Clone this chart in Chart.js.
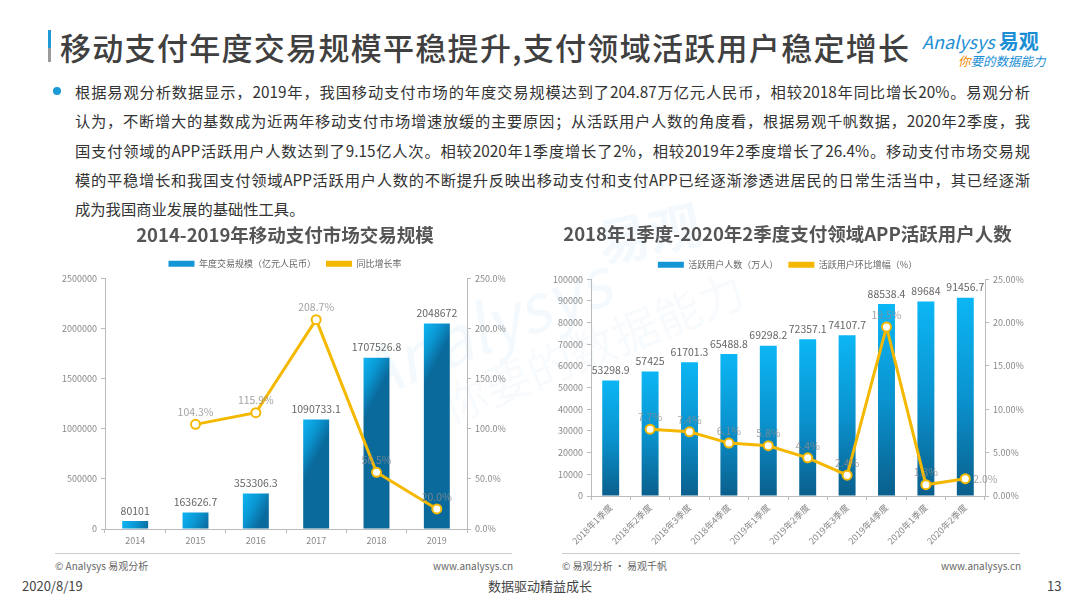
<!DOCTYPE html>
<html><head><meta charset="utf-8">
<script src="https://cdn.jsdelivr.net/npm/chart.js@4"></script>
<style>
html,body{margin:0;padding:0;background:#fff;}
body{width:1080px;height:608px;position:relative;overflow:hidden;font-family:"Noto Sans CJK SC","Noto Sans",sans-serif;}
.abs{position:absolute;}
#titlebar{left:48px;top:30px;width:3px;height:32px;background:linear-gradient(#1e9ad6 0%,#1e9ad6 55%,#9a9a9a 55%,#9a9a9a 100%);}
#title{left:60px;top:24px;font-size:31px;font-weight:500;color:#404040;letter-spacing:1.3px;white-space:nowrap;}
#logo1{left:922px;top:26px;font-size:18px;color:#1a8fd6;font-style:italic;white-space:nowrap;}
#logo1 b{font-style:normal;font-weight:700;font-size:20px;}
#logo2{left:958px;top:51px;font-size:12.5px;color:#1a8fd6;font-style:italic;white-space:nowrap;}
#logo2 span{color:#f08c00;}
#bullet{left:53px;top:87px;width:8px;height:8px;border-radius:50%;background:#1a9ad6;}
.line{left:75px;width:955px;font-size:15.3px;color:#333;white-space:nowrap;text-align:justify;text-align-last:justify;line-height:20px;}
.line.last{text-align-last:left;}
.wm{color:rgba(30,150,220,0.055);white-space:nowrap;transform-origin:left top;}
.foot{font-size:10px;color:#666;white-space:nowrap;}
.hr{height:1px;background:#ccc;}
.bot{font-size:13px;color:#444;white-space:nowrap;top:576px;}
canvas{position:absolute;}
</style></head>
<body>
<div class="abs wm" style="left:590px;top:205px;font-size:52px;font-weight:700;transform:rotate(-12deg);">易观</div>
<div class="abs wm" style="left:340px;top:330px;font-size:66px;transform:rotate(-22deg);font-style:italic;">Analysys</div>
<div class="abs wm" style="left:430px;top:375px;font-size:46px;transform:rotate(-22deg);">你要的数据能力</div>

<div id="titlebar" class="abs"></div>
<div id="title" class="abs">移动支付年度交易规模平稳提升,支付领域活跃用户稳定增长</div>
<div id="logo1" class="abs">Analysys <b>易观</b></div>
<div id="logo2" class="abs"><span>你</span>要的数据能力</div>
<div id="bullet" class="abs"></div>
<div class="abs line" style="top:81px;">根据易观分析数据显示，2019年，我国移动支付市场的年度交易规模达到了204.87万亿元人民币，相较2018年同比增长20%。易观分析</div>
<div class="abs line" style="top:110px;">认为，不断增大的基数成为近两年移动支付市场增速放缓的主要原因；从活跃用户人数的角度看，根据易观千帆数据，2020年2季度，我</div>
<div class="abs line" style="top:140px;">国支付领域的APP活跃用户人数达到了9.15亿人次。相较2020年1季度增长了2%，相较2019年2季度增长了26.4%。移动支付市场交易规</div>
<div class="abs line" style="top:169px;">模的平稳增长和我国支付领域APP活跃用户人数的不断提升反映出移动支付和支付APP已经逐渐渗透进居民的日常生活当中，其已经逐渐</div>
<div class="abs line last" style="top:198px;">成为我国商业发展的基础性工具。</div>

<canvas id="c1" style="left:55px;top:220px;width:460px;height:329px;" width="460" height="329"></canvas>
<canvas id="c2" style="left:545px;top:220px;width:485px;height:326px;" width="485" height="326"></canvas>

<div class="abs hr" style="left:55px;top:553px;width:457px;"></div>
<div class="abs hr" style="left:562px;top:553px;width:458px;"></div>
<div class="abs foot" style="left:55px;top:558px;">© Analysys 易观分析</div>
<div class="abs foot" style="left:433px;top:558px;">www.analysys.cn</div>
<div class="abs foot" style="left:562px;top:558px;">© 易观分析 · 易观千帆</div>
<div class="abs foot" style="left:941px;top:558px;">www.analysys.cn</div>
<div class="abs bot" style="left:22px;">2020/8/19</div>
<div class="abs bot" style="left:488px;">数据驱动精益成长</div>
<div class="abs bot" style="left:1047px;">13</div>

<script>
// ---------- data ----------
const years = ['2014','2015','2016','2017','2018','2019'];
const tradeScale = [80101, 163626.7, 353306.3, 1090733.1, 1707526.8, 2048672];
const tradeGrowth = [null, 104.3, 115.9, 208.7, 56.5, 20.0];

const quarters = ['2018年1季度','2018年2季度','2018年3季度','2018年4季度','2019年1季度','2019年2季度','2019年3季度','2019年4季度','2020年1季度','2020年2季度'];
const activeUsers = [53298.9, 57425, 61701.3, 65488.8, 69298.2, 72357.1, 74107.7, 88538.4, 89684, 91456.7];
const userGrowth = [null, 7.7, 7.4, 6.1, 5.8, 4.4, 2.4, 19.5, 1.3, 2.0];

Chart.defaults.font.family = '"Noto Sans CJK SC","Noto Sans",sans-serif';
Chart.defaults.color = '#888';

const YELLOW = '#f5b800';
const GRID = {drawOnChartArea:false, drawTicks:true, tickLength:4, color:'#bbb'};
const BORDER = {color:'#bbb', width:1};

function barGradient(ctx, diagonal){
  const chart = ctx.chart;
  const area = chart.chartArea;
  if (!area || ctx.type !== 'data') return '#1296d6';
  const xs = chart.scales.x, ys = chart.scales[ctx.dataset.yAxisID || 'y'];
  const x = xs.getPixelForValue(ctx.dataIndex);
  const yt = ys.getPixelForValue(ctx.raw);
  const yb = ys.getPixelForValue(0);
  const half = 13;
  let g;
  if (diagonal) {
    g = chart.ctx.createLinearGradient(x-half, yt, x+half, yt + Math.min(14, yb-yt));
    g.addColorStop(0, '#0db5f3');
    g.addColorStop(0.5, '#0a98d4');
    g.addColorStop(1, '#0a6a9c');
  } else {
    g = chart.ctx.createLinearGradient(0, yt, 0, yb);
    g.addColorStop(0, '#0cb6f4');
    g.addColorStop(0.5, '#0a93cf');
    g.addColorStop(1, '#0a5f8c');
  }
  return g;
}

const labelPlugin = {
  id:'valLabels',
  afterDatasetsDraw(chart, args, opts){
    const ctx = chart.ctx;
    ctx.save();
    chart.data.datasets.forEach((ds, di) => {
      const meta = chart.getDatasetMeta(di);
      meta.data.forEach((el, i) => {
        const v = ds.data[i];
        if (v === null || v === undefined) return;
        if (ds.type === 'line') {
          ctx.font = '10.5px "Noto Sans CJK SC", sans-serif';
          ctx.fillStyle = 'rgba(140,140,140,0.8)';
          const txt = v.toFixed(1) + '%';
          if (opts.lastRight && i === ds.data.length - 1) {
            ctx.textAlign = 'left'; ctx.textBaseline = 'middle';
            ctx.fillText(txt, el.x + 8, el.y);
          } else {
            ctx.textAlign = 'center'; ctx.textBaseline = 'bottom';
            ctx.fillText(txt, el.x, el.y - 7);
          }
        } else {
          ctx.font = '10.5px "Noto Sans CJK SC", sans-serif';
          ctx.fillStyle = '#666';
          ctx.textAlign = 'center'; ctx.textBaseline = 'bottom';
          ctx.fillText(String(v), el.x, el.y - 5);
        }
      });
    });
    ctx.restore();
  }
};

function legendItems(chart){
  const items = Chart.defaults.plugins.legend.labels.generateLabels(chart);
  items.sort((a,b)=>a.datasetIndex-b.datasetIndex);
  items.forEach(it => {
    const c = it.datasetIndex === 0 ? '#1296d6' : YELLOW;
    it.fillStyle = c; it.strokeStyle = c; it.lineWidth = 0;
  });
  return items;
}

function makeChart(id, cfg){
  return new Chart(document.getElementById(id), {
    type:'bar',
    data:{labels:cfg.labels, datasets:[
      {type:'bar', label:cfg.barLabel, data:cfg.bars, yAxisID:'y', order:2,
       backgroundColor:(c)=>barGradient(c, cfg.diagonal), categoryPercentage:0.86, barPercentage:0.5},
      {type:'line', label:cfg.lineLabel, data:cfg.line, yAxisID:'y1', order:1,
       borderColor:YELLOW, backgroundColor:YELLOW, borderWidth:3, pointRadius:4.5, pointHoverRadius:4.5,
       pointBackgroundColor:'#fff', pointBorderColor:YELLOW, pointBorderWidth:2, tension:0}
    ]},
    options:{
      responsive:false, animation:false, devicePixelRatio:1,
      layout:{padding:{left:0,right:0,top:0,bottom:0}},
      plugins:{
        title:{display:true, text:cfg.title, color:'#555', font:{size:18.5, weight:'bold'}, padding:{top:cfg.tpad,bottom:cfg.tbot}},
        legend:{display:true, labels:{boxWidth:26, boxHeight:6, font:{size:9}, color:'#666', padding:10, generateLabels:legendItems}},
        tooltip:{enabled:false},
        valLabels:{lastRight:cfg.lastRight}
      },
      scales:{
        x:{grid:GRID, border:BORDER,
           ticks:{color:'#888', font:{size:9}, maxRotation:cfg.rot, minRotation:cfg.rot, padding:2, autoSkip:false},
           afterFit:(s)=>{s.height = cfg.xh;}},
        y:{position:'left', min:0, max:cfg.yMax, grid:GRID, border:BORDER,
           ticks:{stepSize:cfg.yStep, color:'#888', font:{size:9}, padding:4, callback:(v)=>String(v)},
           afterFit:(s)=>{s.width = cfg.yw;}},
        y1:{position:'right', min:0, max:cfg.y1Max, grid:GRID, border:BORDER,
           ticks:{stepSize:cfg.y1Step, color:'#888', font:{size:9}, padding:4, callback:(v)=>v.toFixed(cfg.dec)+'%'},
           afterFit:(s)=>{s.width = cfg.y1w;}}
      }
    },
    plugins:[labelPlugin]
  });
}

makeChart('c1', {labels:years, bars:tradeScale, line:tradeGrowth,
  barLabel:'年度交易规模（亿元人民币）', lineLabel:'同比增长率',
  title:'2014-2019年移动支付市场交易规模', diagonal:true, tpad:4, tbot:3,
  yMax:2500000, yStep:500000, y1Max:250, y1Step:50, dec:1,
  yw:50, y1w:48, xh:20, rot:0, lastRight:false});

makeChart('c2', {labels:quarters, bars:activeUsers, line:userGrowth,
  barLabel:'活跃用户人数（万人）', lineLabel:'活跃用户环比增幅（%）',
  title:'2018年1季度-2020年2季度支付领域APP活跃用户人数', diagonal:false, tpad:3, tbot:5,
  yMax:100000, yStep:10000, y1Max:25, y1Step:5, dec:2,
  yw:46, y1w:45, xh:50, rot:45, lastRight:true});
</script>
</body></html>
